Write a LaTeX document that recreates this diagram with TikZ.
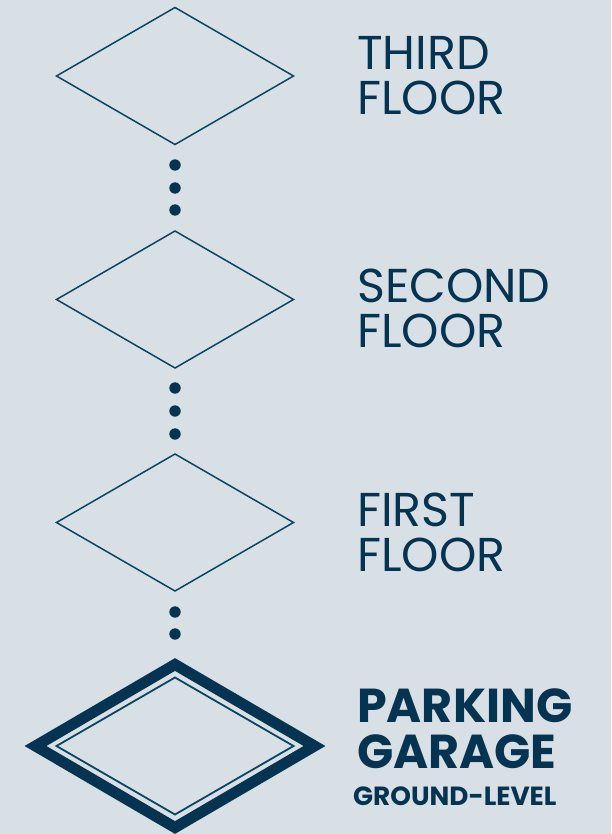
\documentclass[tikz,border=0pt]{standalone}
\usepackage{fontspec}
\usetikzlibrary{calc}
\setmainfont{Poppins}
\newfontfamily\popbold{Poppins}[UprightFont=* Bold]
\definecolor{bgc}{RGB}{216,223,229}
\definecolor{navy}{RGB}{4,52,82}
\definecolor{lnc}{RGB}{10,70,100}
\begin{document}
\begin{tikzpicture}[x=1pt,y=-1pt,
  floorline/.style={draw=lnc,line width=1.5pt,line join=miter},
  dotc/.style={circle,fill=navy,inner sep=0pt,minimum size=11.4pt},
  lbl/.style={anchor=base west,inner sep=0pt,text=navy,font=\fontsize{47.5}{48}\selectfont},
  blbl/.style={anchor=base west,inner sep=0pt,text=navy,font=\popbold\fontsize{47.6}{48}\selectfont},
  slbl/.style={anchor=base west,inner sep=0pt,text=navy,font=\popbold\fontsize{26.3}{26}\selectfont}]
\fill[bgc] (0,0) rectangle (611,834);
\useasboundingbox (0,0) rectangle (611,834);
% floor diamonds
\foreach \n/\cy in {d3/76,d2/299.5,d1/522.5}{
  \coordinate (\n) at (175,\cy);
  \draw[floorline] ($(\n)+(0,-68.5)$) -- ($(\n)+(118.5,0)$) -- ($(\n)+(0,68.5)$) -- ($(\n)+(-118.5,0)$) -- cycle;
}
% parking diamond
\coordinate (pk) at (175,746);
\draw[draw=navy,line width=11pt,line join=miter] ($(pk)+(0,-81.5)$) -- ($(pk)+(139.5,0)$) -- ($(pk)+(0,81.5)$) -- ($(pk)+(-139.5,0)$) -- cycle;
\draw[draw=lnc,line width=1.8pt,line join=miter] ($(pk)+(0,-68.5)$) -- ($(pk)+(118.5,0)$) -- ($(pk)+(0,68.5)$) -- ($(pk)+(-118.5,0)$) -- cycle;
% dots
\foreach \n/\y in {a1/165,a2/188,a3/210,b1/388,b2/411,b3/434,c1/612,c2/634}{
  \node[dotc] (\n) at (175,\y) {};
}
% labels
\node[lbl] (t1) at (357,70) {THIRD};
\node[lbl] (t2) at (357,115) {FLOOR};
\node[lbl] (s1) at (357,302) {SECOND};
\node[lbl] (s2) at (357,347) {FLOOR};
\node[lbl] (f1) at (357,526) {FIRST};
\node[lbl] (f2) at (357,571) {FLOOR};
\node[blbl] (p1) at (357,722) {PARKING};
\node[blbl] (p2) at (357,768) {GARAGE};
\node[slbl] (p3) at (353,805) {GROUND-LEVEL};
\end{tikzpicture}
\end{document}
